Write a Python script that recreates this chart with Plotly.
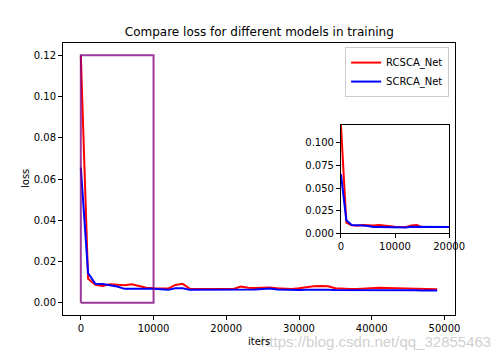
import plotly.graph_objects as go

iters = [0, 1000, 2000, 3000, 4000, 5000, 6000, 7000, 8000, 9000,
         10000, 11000, 12000, 13000, 14000, 15000, 16000, 17000, 18000, 19000,
         20000, 21000, 22000, 23000, 24000, 25000, 26000, 27000, 28000, 29000,
         30000, 31000, 32000, 33000, 34000, 35000, 36000, 37000, 38000, 39000,
         40000, 41000, 42000, 43000, 44000, 45000, 46000, 47000, 48000, 49000]

rcsca_loss = [0.1200, 0.0116, 0.0086, 0.0081, 0.0089, 0.0086, 0.0084, 0.0089, 0.0080, 0.0072,
              0.0070, 0.0068, 0.0068, 0.0086, 0.0091, 0.0067, 0.0067, 0.0068, 0.0069, 0.0068,
              0.0067, 0.0066, 0.0078, 0.0072, 0.0071, 0.0072, 0.0073, 0.0070, 0.0069, 0.0066,
              0.0070, 0.0076, 0.0080, 0.0081, 0.0079, 0.0070, 0.0067, 0.0066, 0.0066, 0.0068,
              0.0071, 0.0072, 0.0071, 0.0070, 0.0069, 0.0068, 0.0067, 0.0067, 0.0066, 0.0065]

scrca_loss = [0.0655, 0.0143, 0.0091, 0.0090, 0.0084, 0.0078, 0.0067, 0.0068, 0.0067, 0.0067,
              0.0067, 0.0066, 0.0062, 0.0070, 0.0070, 0.0062, 0.0062, 0.0062, 0.0062, 0.0062,
              0.0062, 0.0061, 0.0062, 0.0062, 0.0064, 0.0066, 0.0068, 0.0064, 0.0062, 0.0061,
              0.0061, 0.0062, 0.0063, 0.0063, 0.0062, 0.0061, 0.0061, 0.0061, 0.0062, 0.0063,
              0.0062, 0.0060, 0.0060, 0.0060, 0.0060, 0.0060, 0.0060, 0.0059, 0.0059, 0.0059]

series_names = ["RCSCA_Net", "SCRCA_Net"]
series_colors = ["red", "blue"]

# zoom box drawn on main axes
rect_x = [0, 10000]
rect_y = [0, 0.12]

main_xticks = [0, 10000, 20000, 30000, 40000, 50000]
main_yticks = [0.00, 0.02, 0.04, 0.06, 0.08, 0.10, 0.12]
inset_xticks = [0, 10000, 20000]
inset_yticks = [0.000, 0.025, 0.050, 0.075, 0.100]
inset_xrange = [0, 20000]
inset_yrange = [0, 0.12]

FONT = "DejaVu Sans"

fig = go.Figure()

for name, ys, col in zip(series_names, [rcsca_loss, scrca_loss], series_colors):
    fig.add_trace(go.Scatter(x=iters, y=ys, mode="lines", name=name,
                             line=dict(color=col, width=2), xaxis="x", yaxis="y"))

# rectangle
fig.add_trace(go.Scatter(
    x=[rect_x[0], rect_x[1], rect_x[1], rect_x[0], rect_x[0]],
    y=[rect_y[0], rect_y[0], rect_y[1], rect_y[1], rect_y[0]],
    mode="lines", line=dict(color="rgba(128,0,128,0.78)", width=2),
    showlegend=False, xaxis="x", yaxis="y", hoverinfo="skip"))

# inset
for name, ys, col in zip(series_names, [rcsca_loss, scrca_loss], series_colors):
    fig.add_trace(go.Scatter(x=iters, y=ys, mode="lines", name=name,
                             line=dict(color=col, width=2), xaxis="x2", yaxis="y2",
                             showlegend=False))

axis_common = dict(showgrid=False, zeroline=False, showline=True, mirror=True,
                   linecolor="black", linewidth=1, ticks="outside", ticklen=4,
                   tickcolor="black", tickwidth=1,
                   tickfont=dict(family=FONT, size=10, color="black"))

xmin, xmax = iters[0], iters[-1]
xpad = (xmax - xmin) * 0.05
ymin = min(min(rcsca_loss), min(scrca_loss), rect_y[0])
ymax = max(max(rcsca_loss), max(scrca_loss), rect_y[1])
ypad = (ymax - ymin) * 0.05

fig.update_layout(
    width=504, height=360,
    margin=dict(l=63, r=49, t=43, b=45),
    paper_bgcolor="white", plot_bgcolor="white",
    font=dict(family=FONT, size=10, color="black"),
    title=dict(text="Compare loss for different models in training",
               x=0.5145, xanchor="center", y=1 - 32 / 360, yanchor="middle",
               yref="container",
               font=dict(family=FONT, size=12, color="black")),
    xaxis=dict(domain=[0, 1], range=[xmin - xpad, xmax + xpad],
               tickvals=main_xticks, ticktext=[str(v) for v in main_xticks],
               anchor="y", **axis_common),
    yaxis=dict(domain=[0, 1], range=[ymin - ypad, ymax + ypad],
               tickvals=main_yticks, ticktext=["%.2f" % v for v in main_yticks],
               anchor="x", **axis_common),
    xaxis2=dict(domain=[0.709, 0.985], range=inset_xrange,
                tickvals=inset_xticks, ticktext=[str(v) for v in inset_xticks],
                anchor="y2", **axis_common),
    yaxis2=dict(domain=[0.301, 0.699], range=inset_yrange,
                tickvals=inset_yticks, ticktext=["%.3f" % v for v in inset_yticks],
                anchor="x2", **axis_common),
    legend=dict(x=0.985, y=0.985, xanchor="right", yanchor="top",
                bgcolor="white", bordercolor="#cccccc", borderwidth=1,
                font=dict(family=FONT, size=10, color="black"),
                itemwidth=30, tracegroupgap=0),
    showlegend=True,
    annotations=[
        dict(text="https://blog.csdn.net/qq_32855463", xref="paper", yref="paper",
             x=(493 - 63) / 392, y=0, xanchor="right", yanchor="middle", yshift=-26,
             showarrow=False, font=dict(family="Liberation Sans", size=15,
                                        color="rgba(190,190,190,0.75)")),
        dict(text="iters", xref="paper", yref="paper", x=0.5, y=0,
             xanchor="center", yanchor="middle", yshift=-26, showarrow=False,
             font=dict(family=FONT, size=10, color="black")),
        dict(text="loss", xref="paper", yref="paper", x=0, y=0.5,
             xanchor="center", yanchor="middle", xshift=-38, textangle=-90,
             showarrow=False, font=dict(family=FONT, size=10, color="black")),
    ],
)

fig.write_html("out.html",
               config={"displayModeBar": False},
               post_script="document.body.style.margin='0';document.body.style.overflow='hidden';")
